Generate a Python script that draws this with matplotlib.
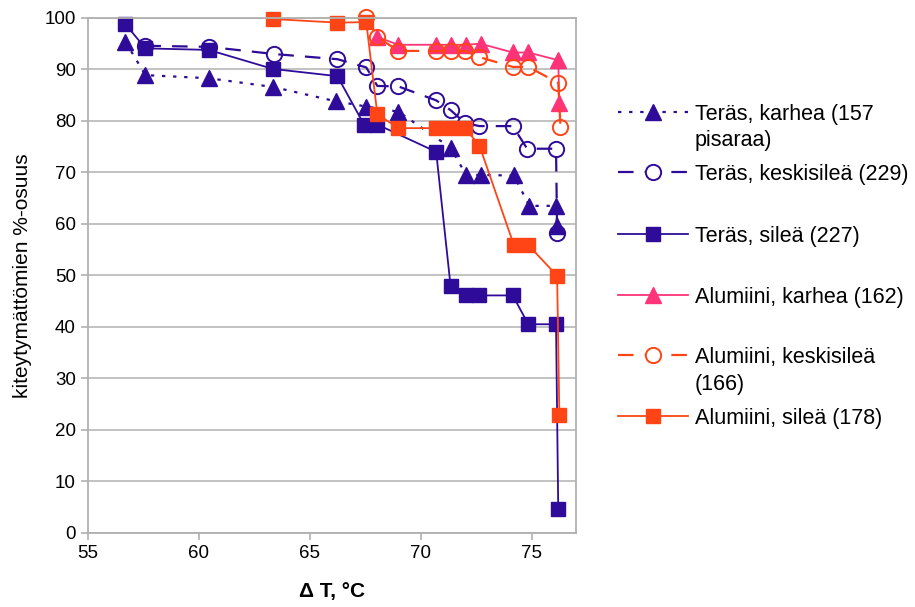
import matplotlib.pyplot as plt
from matplotlib.lines import Line2D

plt.rcParams['font.family'] = ['Liberation Sans', 'DejaVu Sans']

# Teräs, karhea (157 pisaraa)
tk_x = [56.7, 57.6, 60.45, 63.35, 66.2, 67.55, 69.0, 71.35, 72.05, 72.7, 74.2, 74.9, 76.1, 76.15]
tk_y = [95.4, 88.9, 88.3, 86.6, 83.8, 82.8, 81.8, 74.8, 69.5, 69.5, 69.4, 63.5, 63.5, 59.5]

# Teräs, keskisileä (229)
tm_x = [57.6, 60.45, 63.4, 66.25, 67.55, 68.05, 69.0, 70.7, 71.35, 72.0, 72.65, 74.15, 74.8, 76.1, 76.15]
tm_y = [94.6, 94.4, 93.0, 92.0, 90.4, 86.8, 86.7, 84.0, 82.1, 79.6, 79.0, 79.0, 74.6, 74.6, 58.2]

# Teräs, sileä (227)
ts_x = [56.7, 57.6, 60.45, 63.35, 66.25, 67.45, 68.05, 70.7, 71.35, 72.05, 72.65, 74.15, 74.85, 76.1, 76.2]
ts_y = [98.8, 94.1, 93.8, 90.1, 88.7, 79.3, 79.3, 74.0, 47.9, 46.1, 46.1, 46.1, 40.5, 40.5, 4.7]

# Alumiini, karhea (162)
ak_x = [68.05, 69.0, 70.7, 71.35, 72.05, 72.7, 74.15, 74.85, 76.2, 76.25]
ak_y = [96.3, 94.8, 94.8, 94.8, 94.8, 95.0, 93.3, 93.3, 91.8, 83.4]

# Alumiini, keskisileä (166)
am_x = [67.55, 68.05, 69.0, 70.7, 71.35, 72.0, 72.65, 74.15, 74.85, 76.2, 76.3]
am_y = [100.2, 96.3, 93.6, 93.6, 93.6, 93.6, 92.4, 90.5, 90.5, 87.4, 78.9]

# Alumiini, sileä (178)
as_x = [63.35, 66.25, 67.55, 68.05, 69.0, 70.7, 71.35, 72.0, 72.65, 74.2, 74.85, 76.15, 76.25]
as_y = [99.8, 99.1, 99.2, 81.3, 78.6, 78.6, 78.6, 78.6, 75.2, 55.9, 55.9, 49.9, 22.9]

labels = ["Teräs, karhea (157\npisaraa)", "Teräs, keskisileä (229)", "Teräs, sileä (227)",
          "Alumiini, karhea (162)", "Alumiini, keskisileä\n(166)", "Alumiini, sileä (178)"]

BLUE = '#2E0C99'
PINK = '#FF3377'
ORANGE = '#FF4516'
DOTTED = (0, (1.5, 3.5))
DASHED = (0, (7, 5))

styles = [
    dict(color=BLUE, ls=DOTTED, marker='^', ms=11, mfc=BLUE, lw=1.6),
    dict(color=BLUE, ls=DASHED, marker='o', ms=11, mfc='none', mew=1.4, lw=1.6),
    dict(color=BLUE, ls='-', marker='s', ms=10.5, mfc=BLUE, lw=1.3),
    dict(color=PINK, ls='-', marker='^', ms=11, mfc=PINK, lw=1.3),
    dict(color=ORANGE, ls=DASHED, marker='o', ms=11, mfc='none', mew=1.4, lw=1.6),
    dict(color=ORANGE, ls='-', marker='s', ms=10.5, mfc=ORANGE, lw=1.3),
]
series = [(tk_x, tk_y), (tm_x, tm_y), (ts_x, ts_y), (ak_x, ak_y), (am_x, am_y), (as_x, as_y)]

fig = plt.figure(figsize=(9.15, 6.07), dpi=100)
W, H = 915, 607
ax = fig.add_axes([87.7 / W, 1 - 532.7 / H, (576 - 87.7) / W, (532.7 - 18) / H])

for (x, y), st in zip(series, styles):
    ax.plot(x, y, mec=st['color'], clip_on=False, **st)

ax.set_xlim(55, 77)
ax.set_ylim(0, 100)
ax.set_xticks([55, 60, 65, 70, 75])
ax.set_yticks(range(0, 101, 10))
ax.yaxis.grid(True, color='#BDBDBD', lw=1.3)
ax.set_axisbelow(True)
for sp in ax.spines.values():
    sp.set_color('#B0B0B0')
    sp.set_linewidth(1.3)
ax.tick_params(colors='#B0B0B0', labelcolor='black', labelsize=13.5, length=5, width=1.2)
ax.set_xlabel("Δ T, °C", fontsize=15, fontweight='bold', labelpad=15)
ax.set_ylabel("kiteytymättömien %-osuus", fontsize=15, labelpad=9)

# legend drawn by hand so the handle sits on the first text line
leg_y = [111.7, 171.7, 234, 295, 355, 416]
for lab, st, py in zip(labels, styles, leg_y):
    yf = 1 - py / H
    face = 'white' if st['mfc'] == 'none' else st['mfc']
    fig.add_artist(Line2D([618 / W, 688 / W], [yf, yf], color=st['color'], ls=st['ls'],
                          lw=st['lw'], transform=fig.transFigure))
    fig.add_artist(Line2D([653 / W], [yf], color=st['color'], ls='none', marker=st['marker'],
                          ms=st['ms'], mfc=face, mec=st['color'], mew=st.get('mew', 1),
                          transform=fig.transFigure))
    for j, line in enumerate(lab.split('\n')):
        fig.text(695 / W, 1 - (py + j * 26.7) / H, line, fontsize=15.5,
                 va='center_baseline', ha='left')

fig.savefig('out.png', dpi=100)
